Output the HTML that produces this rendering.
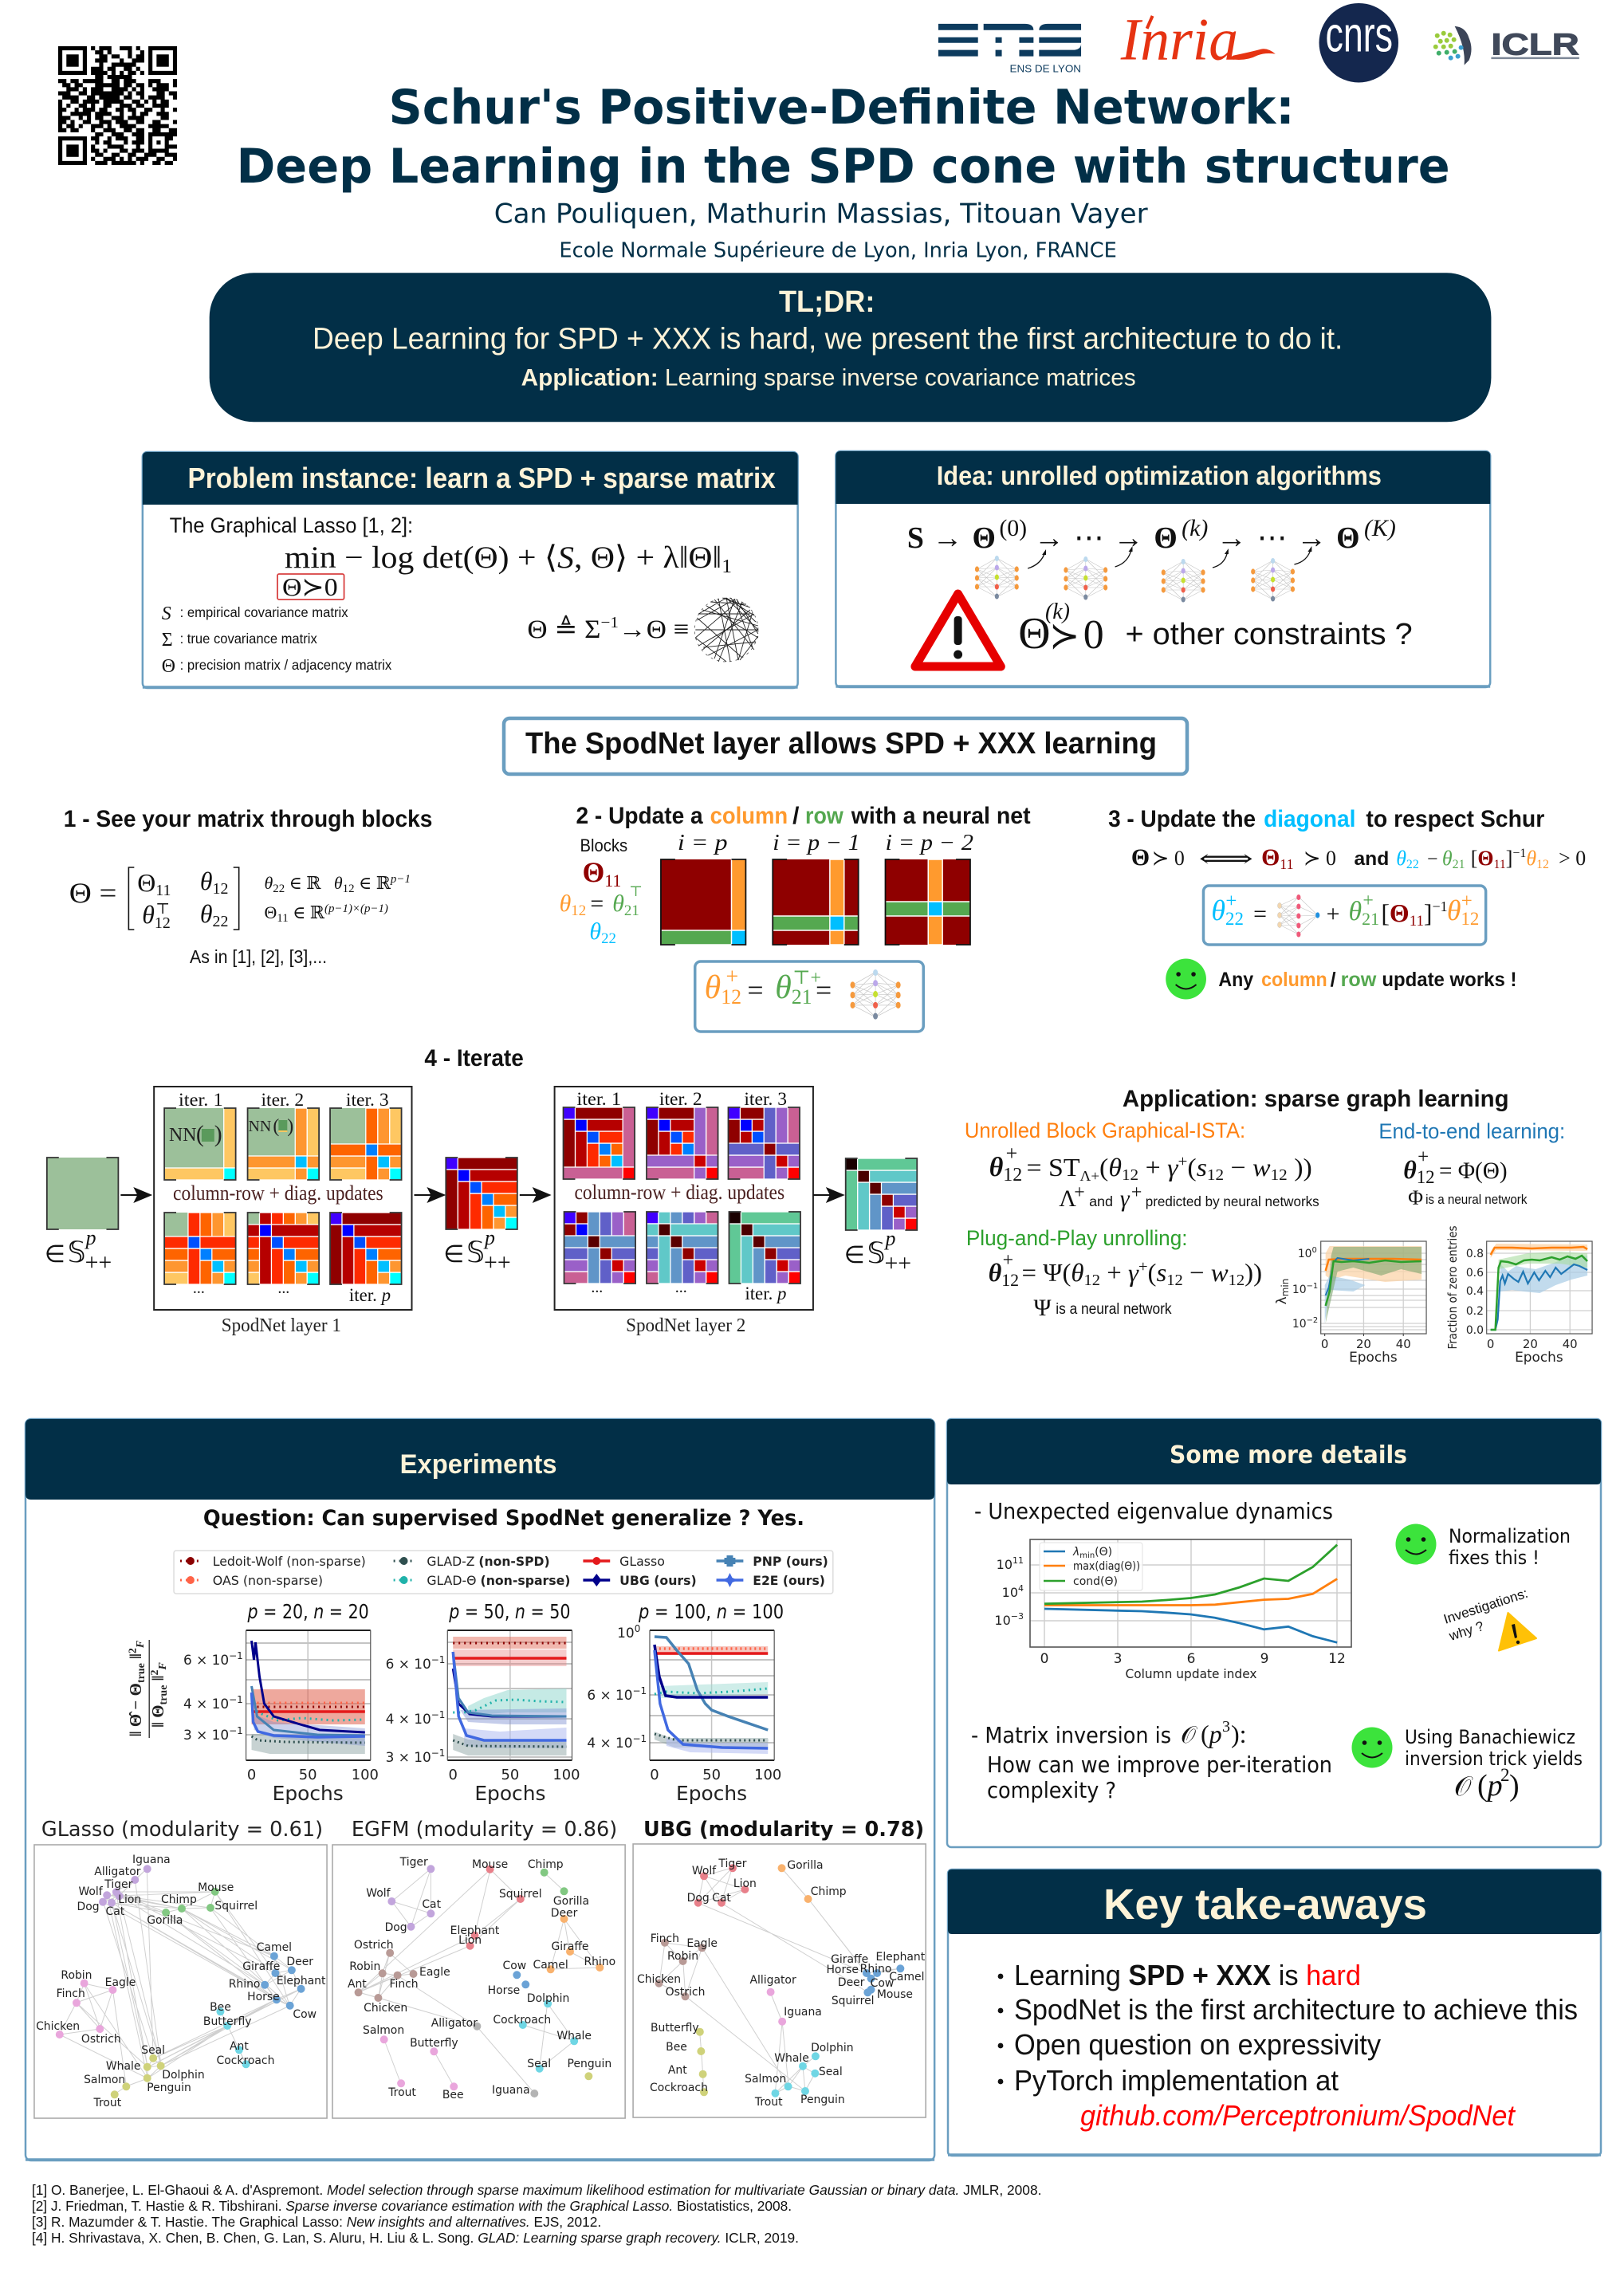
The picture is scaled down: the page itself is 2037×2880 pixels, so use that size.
<!DOCTYPE html>
<html><head><meta charset="utf-8"><title>SpodNet poster</title>
<style>
html,body{margin:0;padding:0;background:#fff}
svg{display:block}
text{white-space:pre}
.a{font-family:"Liberation Sans",sans-serif}
.ab{font-family:"Liberation Sans",sans-serif;font-weight:bold}
.d{font-family:"DejaVu Sans",sans-serif}
.db{font-family:"DejaVu Sans",sans-serif;font-weight:bold}
.m{font-family:"Liberation Serif","DejaVu Serif","DejaVu Sans",serif}
.mi{font-family:"Liberation Serif","DejaVu Serif","DejaVu Sans",serif;font-style:italic}
.mb{font-family:"Liberation Serif","DejaVu Serif","DejaVu Sans",serif;font-weight:bold}
.lb text{font-family:"DejaVu Sans",sans-serif;font-size:14px;text-anchor:middle;fill:#222}
</style></head><body>
<svg xmlns="http://www.w3.org/2000/svg" width="2037" height="2880" viewBox="0 0 2037 2880">
<defs>
<g id="nn">
<path d="M5 17L30 3M5 17L30 15M5 17L30 27M5 17L30 39M5 28L30 3M5 28L30 15M5 28L30 27M5 28L30 39M5 28L30 52M5 39L30 15M5 39L30 27M5 39L30 39M5 39L30 52M55 17L30 3M55 17L30 15M55 17L30 27M55 17L30 39M55 28L30 3M55 28L30 15M55 28L30 27M55 28L30 39M55 28L30 52M55 39L30 15M55 39L30 27M55 39L30 39M55 39L30 52M30 3V52" stroke="#c4c4c4" stroke-width=".6" fill="none"/>
<g fill="#f59a3e"><ellipse cx="5" cy="17" rx="2.6" ry="3.6"/><ellipse cx="5" cy="28" rx="2.6" ry="3.6"/><ellipse cx="5" cy="39" rx="2.6" ry="3.6"/><ellipse cx="55" cy="17" rx="2.6" ry="3.6"/><ellipse cx="55" cy="28" rx="2.6" ry="3.6"/><ellipse cx="55" cy="39" rx="2.6" ry="3.6"/></g>
<ellipse cx="30" cy="3.5" rx="2.6" ry="3.5" fill="#bcd9ee"/><ellipse cx="30" cy="15" rx="2.6" ry="3.5" fill="#bba8ea"/><ellipse cx="30" cy="27" rx="2.6" ry="3.5" fill="#c6e030"/><ellipse cx="30" cy="39" rx="2.6" ry="3.5" fill="#f0604a"/><ellipse cx="30" cy="51" rx="2.6" ry="3.5" fill="#7a8aa0"/>
</g>
<g id="nn2">
<path d="M4 14L28 3M4 14L28 15M4 14L28 27M4 14L28 39M4 26L28 3M4 26L28 15M4 26L28 27M4 26L28 39M4 26L28 50M4 38L28 15M4 38L28 27M4 38L28 39M4 38L28 50M52 26L28 3M52 26L28 15M52 26L28 27M52 26L28 39M52 26L28 50" stroke="#c4c4c4" stroke-width=".6" fill="none"/>
<g fill="#f3d6ae" stroke="#bbb" stroke-width=".4"><ellipse cx="4" cy="14" rx="2.5" ry="3.6"/><ellipse cx="4" cy="26" rx="2.5" ry="3.6"/><ellipse cx="4" cy="38" rx="2.5" ry="3.6"/></g>
<g fill="#ef5a7a"><ellipse cx="28" cy="3.5" rx="2.6" ry="3.5"/><ellipse cx="28" cy="15" rx="2.6" ry="3.5"/><ellipse cx="28" cy="27" rx="2.6" ry="3.5"/><ellipse cx="28" cy="39" rx="2.6" ry="3.5"/><ellipse cx="28" cy="50" rx="2.6" ry="3.5"/></g>
<ellipse cx="52" cy="26" rx="2.6" ry="3.6" fill="#1e90e0"/>
</g>
<g id="smile"><circle cx="0" cy="0" r="25.5" fill="#3ce33c"/><circle cx="-9.5" cy="-6" r="2.8" fill="#111"/><circle cx="9.5" cy="-6" r="2.8" fill="#111"/><path d="M-13 7Q0 18 13 7" fill="none" stroke="#111" stroke-width="2"/></g>
<g id="br"><path d="M15 0H0V90H15M75 0H90V90H75" fill="none" stroke="#333" stroke-width="1.8"/></g>
<g id="a5"><rect x="75" y="0" width="15" height="90" fill="#fec762"/><rect x="0" y="75" width="90" height="15" fill="#fec762"/><rect x="75" y="75" width="15" height="15" fill="#00ffff"/></g>
<g id="a4"><rect x="60" y="0" width="15" height="90" fill="#fe9630"/><rect x="0" y="60" width="90" height="15" fill="#fe9630"/><rect x="60" y="60" width="15" height="15" fill="#00bfff"/></g>
<g id="a3"><rect x="45" y="0" width="15" height="90" fill="#fe6400"/><rect x="0" y="45" width="90" height="15" fill="#fe6400"/><rect x="45" y="45" width="15" height="15" fill="#0080ff"/></g>
<g id="a2"><rect x="30" y="0" width="15" height="90" fill="#fe2a00"/><rect x="0" y="30" width="90" height="15" fill="#fe2a00"/><rect x="30" y="30" width="15" height="15" fill="#0050ff"/></g>
<g id="a1"><rect x="15" y="0" width="15" height="90" fill="#b60000"/><rect x="0" y="15" width="90" height="15" fill="#b60000"/><rect x="15" y="15" width="15" height="15" fill="#0000ff"/></g>
<g id="a0"><rect x="0" y="0" width="15" height="90" fill="#8f0000"/><rect x="0" y="0" width="90" height="15" fill="#8f0000"/><rect x="0" y="0" width="15" height="15" fill="#4000ff"/></g>
<g id="b5"><rect x="75" y="0" width="15" height="90" fill="#c96094"/><rect x="0" y="75" width="90" height="15" fill="#c96094"/><rect x="75" y="75" width="15" height="15" fill="#ff0000"/></g>
<g id="b4"><rect x="60" y="0" width="15" height="90" fill="#9a60c8"/><rect x="0" y="60" width="90" height="15" fill="#9a60c8"/><rect x="60" y="60" width="15" height="15" fill="#cc0000"/></g>
<g id="b3"><rect x="45" y="0" width="15" height="90" fill="#6060c8"/><rect x="0" y="45" width="90" height="15" fill="#6060c8"/><rect x="45" y="45" width="15" height="15" fill="#8f0000"/></g>
<g id="b2"><rect x="30" y="0" width="15" height="90" fill="#6095c8"/><rect x="0" y="30" width="90" height="15" fill="#6095c8"/><rect x="30" y="30" width="15" height="15" fill="#5a0000"/></g>
<g id="b1"><rect x="15" y="0" width="15" height="90" fill="#60c8c8"/><rect x="0" y="15" width="90" height="15" fill="#60c8c8"/><rect x="15" y="15" width="15" height="15" fill="#4a0000"/></g>
<g id="b0"><rect x="0" y="0" width="15" height="90" fill="#60c896"/><rect x="0" y="0" width="90" height="15" fill="#60c896"/><rect x="0" y="0" width="15" height="15" fill="#1a0000"/></g>
<g id="L1" stroke="#fff" stroke-width="1.3"><rect width="90" height="90" fill="#9cc09a" stroke="none"/><use href="#a5"/></g>
<g id="L2"><use href="#L1"/><use href="#a4" stroke="#fff" stroke-width="1.3"/></g>
<g id="L3"><use href="#L2"/><use href="#a3" stroke="#fff" stroke-width="1.3"/></g>
<g id="L4"><use href="#L3"/><use href="#a2" stroke="#fff" stroke-width="1.3"/></g>
<g id="L5"><use href="#L4"/><use href="#a1" stroke="#fff" stroke-width="1.3"/></g>
<g id="L6"><use href="#L5"/><use href="#a0" stroke="#fff" stroke-width="1.3"/></g>
<g id="R1"><use href="#L6"/><use href="#b5" stroke="#fff" stroke-width="1.3"/></g>
<g id="R2"><use href="#R1"/><use href="#b4" stroke="#fff" stroke-width="1.3"/></g>
<g id="R3"><use href="#R2"/><use href="#b3" stroke="#fff" stroke-width="1.3"/></g>
<g id="R4"><use href="#R3"/><use href="#b2" stroke="#fff" stroke-width="1.3"/></g>
<g id="R5"><use href="#R4"/><use href="#b1" stroke="#fff" stroke-width="1.3"/></g>
<g id="R6"><use href="#R5"/><use href="#b0" stroke="#fff" stroke-width="1.3"/></g>
<g id="arr"><path d="M0 0H28" stroke="#111" stroke-width="2"/><path d="M40 0L16 -10L21 0L16 10Z" fill="#111"/></g>
</defs>

<!-- QR -->
<g transform="translate(73 58) scale(5.14)">
<path fill-rule="evenodd" d="M0 0H7V7H0ZM1 1V6H6V1ZM22 0H29V7H22ZM23 1V6H28V1ZM0 22H7V29H0ZM1 23V28H6V23Z"/>
<rect x="2" y="2" width="3" height="3"/><rect x="24" y="2" width="3" height="3"/><rect x="2" y="24" width="3" height="3"/>
<path fill="none" stroke="#000" stroke-width="1" d="M8 .5h1M10 .5h3M15 .5h3M19 .5h1M9 1.5h2M12 1.5h1M17 1.5h1M20 1.5h1M10 2.5h2M13 2.5h2M17 2.5h1M19 2.5h2M9 3.5h3M15 3.5h1M18 3.5h3M10 4.5h1M13 4.5h6M8 5.5h3M12 5.5h2M16 5.5h2M19 5.5h1M8 6.5h4M13 6.5h1M15 6.5h1M17 6.5h2M20 6.5h1M9 7.5h2M12 7.5h6M0 8.5h2M3 8.5h2M6 8.5h2M8 8.5h3M13 8.5h2M16 8.5h3M22 8.5h3M28 8.5h1M1 9.5h2M4 9.5h2M9 9.5h6M16 9.5h2M19 9.5h2M22 9.5h1M24 9.5h3M28 9.5h1M2 10.5h3M6 10.5h1M8 10.5h3M13 10.5h4M18 10.5h1M20 10.5h1M23 10.5h4M0 11.5h3M5 11.5h2M8 11.5h8M17 11.5h1M19 11.5h2M24 11.5h2M27 11.5h2M1 12.5h4M7 12.5h2M10 12.5h5M16 12.5h2M20 12.5h1M22 12.5h4M28 12.5h1M0 13.5h1M3 13.5h2M6 13.5h4M11 13.5h5M18 13.5h2M21 13.5h1M23 13.5h1M25 13.5h2M0 14.5h1M2 14.5h1M5 14.5h2M8 14.5h1M11 14.5h2M15 14.5h3M19 14.5h2M23 14.5h4M0 15.5h2M4 15.5h1M6 15.5h3M10 15.5h2M14 15.5h2M17 15.5h2M21 15.5h2M25 15.5h1M28 15.5h1M0 16.5h1M3 16.5h5M9 16.5h4M15 16.5h1M18 16.5h1M20 16.5h2M24 16.5h3M0 17.5h3M5 17.5h1M7 17.5h1M9 17.5h2M13 17.5h3M17 17.5h4M25 17.5h2M0 18.5h2M3 18.5h1M6 18.5h2M10 18.5h3M14 18.5h3M19 18.5h2M23 18.5h2M28 18.5h1M0 19.5h1M2 19.5h2M5 19.5h1M8 19.5h3M12 19.5h1M15 19.5h4M22 19.5h5M0 20.5h2M3 20.5h2M8 20.5h1M11 20.5h3M16 20.5h2M19 20.5h2M23 20.5h2M27 20.5h2M9 21.5h2M13 21.5h3M18 21.5h3M22 21.5h7M8 22.5h2M12 22.5h1M14 22.5h3M19 22.5h2M22 22.5h1M26 22.5h2M9 23.5h1M11 23.5h2M16 23.5h1M18 23.5h3M22 23.5h1M24 23.5h1M26 23.5h1M8 24.5h1M12 24.5h4M19 24.5h1M22 24.5h1M26 24.5h3M8 25.5h2M11 25.5h1M15 25.5h2M18 25.5h3M22 25.5h5M9 26.5h2M13 26.5h2M17 26.5h2M21 26.5h3M26 26.5h3M8 27.5h1M11 27.5h3M15 27.5h1M17 27.5h1M19 27.5h3M24 27.5h2M28 27.5h1M9 28.5h3M13 28.5h6M20 28.5h1M23 28.5h2M26 28.5h2"/>
</g>

<!-- TOP GROUP -->
<g transform="scale(.9949)">
<g fill="#0d3b5e">
<path d="M1183 30h50v8h-50zM1240 30h52q11 0 11 8h-63zM1310 38q0-8 11-8h42v8zM1183 47h50v7h-50zM1255 47h8v7h-8zM1285 47h18v7h-18zM1310 47h53v7h-53zM1183 63h50v8h-50zM1255 63h8v8h-8zM1285 63h18v8h-18zM1310 63h42q11 0 11-8v16h-53z"/>
</g>
<text class="a" x="1273" y="91" font-size="13" fill="#0d3b5e" textLength="90" lengthAdjust="spacingAndGlyphs">ENS DE LYON</text>
<text class="mi" x="1413" y="75" font-size="76" fill="#e63312" textLength="148" lengthAdjust="spacingAndGlyphs">Inria</text>
<path d="M1555 70Q1575 66 1590 62Q1598 60 1608 68Q1595 66 1585 70Q1570 78 1548 74Z" fill="#e63312"/>
<path d="M1453 20L1446 36" stroke="#e63312" stroke-width="4"/>
<ellipse cx="1713" cy="54" rx="50" ry="50" fill="#14274e"/>
<text class="a" x="1671" y="65" font-size="62" fill="#fff" textLength="85" lengthAdjust="spacingAndGlyphs">cnrs</text>
<g>
<path d="M1834 33Q1848 34 1852 48Q1858 62 1852 76L1846 82Q1848 60 1834 33Z" fill="#3c4558"/>
<g fill="#9acb3c"><circle cx="1812" cy="45" r="3"/><circle cx="1820" cy="42" r="3"/><circle cx="1828" cy="44" r="3"/><circle cx="1816" cy="52" r="3"/><circle cx="1824" cy="51" r="3"/><circle cx="1833" cy="50" r="3"/><circle cx="1810" cy="59" r="3"/><circle cx="1820" cy="59" r="3"/><circle cx="1829" cy="58" r="3"/></g>
<g fill="#3fae6a"><circle cx="1814" cy="67" r="3"/><circle cx="1824" cy="66" r="3"/><circle cx="1834" cy="65" r="3"/></g>
<g fill="#3a9fd0"><circle cx="1829" cy="73" r="3"/><circle cx="1838" cy="71" r="3"/><circle cx="1842" cy="60" r="3"/></g>
<text class="ab" x="1880" y="69" font-size="38" fill="#40495a" textLength="111" lengthAdjust="spacingAndGlyphs" stroke="#40495a" stroke-width="1">ICLR</text>
<rect x="1880" y="72" width="111" height="2.5" fill="#7d8797"/>
</g>
<text class="db" x="490" y="156" font-size="60" fill="#022f47" textLength="1142" lengthAdjust="spacingAndGlyphs">Schur's Positive-Definite Network:</text>
<text class="db" x="298" y="230" font-size="60" fill="#022f47" textLength="1530" lengthAdjust="spacingAndGlyphs">Deep Learning in the SPD cone with structure</text>
<text class="d" x="623" y="281" font-size="34" fill="#022f47" textLength="824" lengthAdjust="spacingAndGlyphs">Can Pouliquen, Mathurin Massias, Titouan Vayer</text>
<text class="d" x="705" y="324" font-size="26" fill="#022f47" textLength="703" lengthAdjust="spacingAndGlyphs">Ecole Normale Supérieure de Lyon, Inria Lyon, FRANCE</text>
<rect x="264" y="344" width="1616" height="188" rx="56" ry="56" fill="#022f47"/>
<text class="ab" x="982" y="393" font-size="38" fill="#fdf3d8" textLength="121" lengthAdjust="spacingAndGlyphs">TL;DR:</text>
<text class="a" x="394" y="440" font-size="38" fill="#fdf3d8" textLength="1299" lengthAdjust="spacingAndGlyphs">Deep Learning for SPD + XXX is hard, we present the first architecture to do it.</text>
<text class="a" x="657" y="486" font-size="30" fill="#fdf3d8" textLength="775" lengthAdjust="spacingAndGlyphs"><tspan font-weight="bold">Application:</tspan> Learning sparse inverse covariance matrices</text>
</g>

<!-- BOXES -->
<g transform="translate(150 0) scale(.9949 1) translate(-150 0)">
<rect x="179" y="567" width="826" height="296" rx="6" fill="#fff" stroke="#6a9ec0" stroke-width="2.5"/>
<path d="M179 862H1005" stroke="#6a9ec0" stroke-width="3.5"/>
<path d="M179 573q0-6 6-6h814q6 0 6 6v60H179Z" fill="#022f47"/>
<text class="ab" x="236" y="612" font-size="36" fill="#fdf3d8" textLength="741" lengthAdjust="spacingAndGlyphs">Problem instance: learn a SPD + sparse matrix</text>
<text class="a" x="213" y="668" font-size="27" fill="#111" textLength="307" lengthAdjust="spacingAndGlyphs">The Graphical Lasso [1, 2]:</text>
<text class="m" x="358" y="712" font-size="39" fill="#111" textLength="564" lengthAdjust="spacingAndGlyphs">min − log det(Θ) + ⟨<tspan font-style="italic">S</tspan>, Θ⟩ + λ‖Θ‖<tspan font-size="24" dy="6">1</tspan></text>
<rect x="349" y="720" width="84" height="32" rx="2" fill="#fff" stroke="#d84040" stroke-width="1.8"/>
<text class="m" x="355" y="747" font-size="32" fill="#111" textLength="70" lengthAdjust="spacingAndGlyphs">Θ≻0</text>
<text class="mi" x="203" y="777" font-size="24" fill="#111">S</text><text class="a" x="226" y="774" font-size="18" fill="#111" textLength="212" lengthAdjust="spacingAndGlyphs">: empirical covariance matrix</text>
<text class="m" x="203" y="810" font-size="24" fill="#111">Σ</text><text class="a" x="226" y="807" font-size="18" fill="#111" textLength="173" lengthAdjust="spacingAndGlyphs">: true covariance matrix</text>
<text class="m" x="203" y="843" font-size="24" fill="#111">Θ</text><text class="a" x="226" y="840" font-size="18" fill="#111" textLength="267" lengthAdjust="spacingAndGlyphs">: precision matrix / adjacency matrix</text>
<text class="m" x="664" y="800" font-size="33" fill="#111" textLength="204" lengthAdjust="spacingAndGlyphs">Θ ≜ Σ<tspan font-size="20" dy="-13">−1</tspan><tspan dy="13">→Θ ≡</tspan></text>
<g fill="none" stroke="#222" stroke-width=".9">
<circle cx="915" cy="790" r="40" stroke="#666" stroke-dasharray="3 5"/>
<path d="M915 750L955 790M915 750L880 770M915 750L930 828M900 752L950 815M930 754L876 800M876 790H955M880 770L945 770M885 815L945 765M900 826L925 752M935 755L905 830M878 775L935 825M880 810L950 770M890 760L955 800M925 751L948 812M905 751L920 830M948 768L930 828M876 800L915 830M955 785L885 765M915 750L950 772M920 750L952 780M910 750L945 762M928 752L955 795M895 755L940 758M886 812L952 805M892 822L955 790M878 778L925 752M932 828L955 798"/>
</g>
<rect x="1053" y="566" width="825" height="296" rx="6" fill="#fff" stroke="#6a9ec0" stroke-width="2.5"/>
<path d="M1053 861H1878" stroke="#6a9ec0" stroke-width="3.5"/>
<path d="M1053 572q0-6 6-6h813q6 0 6 6v60h-825Z" fill="#022f47"/>
<text class="ab" x="1180" y="608" font-size="33" fill="#fdf3d8" textLength="561" lengthAdjust="spacingAndGlyphs">Idea: unrolled optimization algorithms</text>
<g fill="#111" font-size="38">
<text class="mb" x="1143" y="687" font-size="38">S</text><text class="m" x="1175" y="687" font-size="38">→</text>
<text class="mb" x="1225" y="687">Θ</text><text class="m" x="1259" y="672" font-size="30">(0)</text>
<text class="m" x="1303" y="687">→</text><text class="m" x="1353" y="687">⋯</text><text class="m" x="1403" y="687">→</text>
<text class="mb" x="1454" y="687">Θ</text><text class="mi" x="1489" y="672" font-size="30">(k)</text>
<text class="m" x="1533" y="687">→</text><text class="m" x="1584" y="687">⋯</text><text class="m" x="1634" y="687">→</text>
<text class="mb" x="1684" y="687">Θ</text><text class="mi" x="1719" y="672" font-size="30">(K)</text>
</g>
<use href="#nn" x="1226" y="697"/><use href="#nn" x="1338" y="698"/><use href="#nn" x="1461" y="701"/><use href="#nn" x="1574" y="700"/>
<g fill="none" stroke="#111" stroke-width="1.3"><path d="M1295 713Q1312 708 1317 692M1405 711Q1422 706 1426 688M1528 712Q1544 708 1547 691M1631 708Q1648 704 1652 688"/></g>
<g fill="#111"><path d="M1318 689l-5 7 5 0zM1427 685l-5 7 5 0zM1548 688l-5 7 5 0zM1653 685l-5 7 5 0z"/></g>
<path d="M1207 745L1261 836H1153Z" fill="#fff" stroke="#e60000" stroke-width="11" stroke-linejoin="round"/>
<rect x="1202" y="773" width="10" height="36" rx="4" fill="#111"/><circle cx="1207" cy="821" r="5.5" fill="#111"/>
<text class="m" x="1283" y="813" font-size="56" fill="#111">Θ</text><text class="mi" x="1317" y="776" font-size="28" fill="#111">(k)</text>
<text class="m" x="1322" y="813" font-size="46" fill="#111">≻</text><text class="m" x="1365" y="813" font-size="52" fill="#111">0</text>
<text class="a" x="1418" y="808" font-size="38" fill="#111" textLength="362" lengthAdjust="spacingAndGlyphs">+ other constraints ?</text>
</g>

<!-- SpodNet -->
<rect x="632" y="901" width="857" height="70" rx="7" fill="#fff" stroke="#6a9ec0" stroke-width="4.5"/>
<text class="ab" x="659" y="945" font-size="38" fill="#111" textLength="792" lengthAdjust="spacingAndGlyphs">The SpodNet layer allows SPD + XXX learning</text>

<!-- Sections 1-3 -->
<g transform="translate(40 0) scale(.9949 1) translate(-40 0)">
<text class="ab" x="80" y="1037" font-size="30" fill="#111" textLength="465" lengthAdjust="spacingAndGlyphs">1 - See your matrix through blocks</text>
<text class="m" x="87" y="1132" font-size="36" fill="#111" textLength="60" lengthAdjust="spacingAndGlyphs">Θ =</text>
<path d="M169 1088H162V1166H169M294 1088H301V1166H294" fill="none" stroke="#111" stroke-width="1.6"/>
<text class="m" x="173" y="1118" font-size="32" fill="#111">Θ<tspan font-size="20" dy="5">11</tspan></text>
<text class="mi" x="252" y="1116" font-size="32" fill="#111">θ<tspan font-size="20" dy="5" font-style="normal">12</tspan></text>
<text class="mi" x="179" y="1158" font-size="32" fill="#111">θ<tspan font-size="20" dy="6" font-style="normal">12</tspan></text><text class="m" x="196" y="1146" font-size="19" fill="#111">⊤</text>
<text class="mi" x="252" y="1157" font-size="32" fill="#111">θ<tspan font-size="20" dy="5" font-style="normal">22</tspan></text>
<text class="mi" x="333" y="1115" font-size="22" fill="#111">θ<tspan font-size="15" dy="4" font-style="normal">22</tspan><tspan font-style="normal" dy="-4"> ∈ ℝ   </tspan>θ<tspan font-size="15" dy="4" font-style="normal">12</tspan><tspan font-style="normal" dy="-4"> ∈ ℝ</tspan><tspan font-size="15" dy="-8">p−1</tspan></text>
<text class="m" x="333" y="1152" font-size="22" fill="#111">Θ<tspan font-size="15" dy="4">11</tspan><tspan dy="-4"> ∈ ℝ</tspan><tspan font-size="15" dy="-8" font-style="italic">(p−1)×(p−1)</tspan></text>
<text class="a" x="239" y="1208" font-size="23" fill="#111" textLength="173" lengthAdjust="spacingAndGlyphs">As in [1], [2], [3],...</text>

<text class="ab" x="726" y="1033" font-size="30" fill="#111" textLength="160" lengthAdjust="spacingAndGlyphs">2 - Update a</text>
<text class="ab" x="895" y="1033" font-size="30" fill="#ff9a2e" textLength="98" lengthAdjust="spacingAndGlyphs">column</text>
<text class="ab" x="999" y="1033" font-size="30" fill="#111">/</text>
<text class="ab" x="1015" y="1033" font-size="30" fill="#55a850" textLength="48" lengthAdjust="spacingAndGlyphs">row</text>
<text class="ab" x="1073" y="1033" font-size="30" fill="#111" textLength="226" lengthAdjust="spacingAndGlyphs">with a neural net</text>
<text class="a" x="731" y="1068" font-size="22" fill="#111" textLength="60" lengthAdjust="spacingAndGlyphs">Blocks</text>
<text class="mi" x="854" y="1066" font-size="28" fill="#111" textLength="63" lengthAdjust="spacingAndGlyphs">i = p</text>
<text class="mi" x="974" y="1066" font-size="28" fill="#111" textLength="110" lengthAdjust="spacingAndGlyphs">i = p − 1</text>
<text class="mi" x="1116" y="1066" font-size="28" fill="#111" textLength="111" lengthAdjust="spacingAndGlyphs">i = p − 2</text>
<rect x="833" y="1078" width="107" height="107" fill="#8f0000"/><rect x="974" y="1078" width="108" height="107" fill="#8f0000"/><rect x="1116" y="1078" width="107" height="107" fill="#8f0000"/>
<g stroke="#fff" stroke-width="1.5">
<rect x="922" y="1078" width="18" height="107" fill="#ff9a2e"/>
<rect x="833" y="1167" width="107" height="18" fill="#55a850"/><rect x="922" y="1167" width="18" height="18" fill="#00bfff"/>
<rect x="1046" y="1078" width="18" height="107" fill="#ff9a2e"/>
<rect x="974" y="1149" width="108" height="18" fill="#55a850"/><rect x="1046" y="1149" width="18" height="18" fill="#00bfff"/>
<rect x="1170" y="1078" width="18" height="107" fill="#ff9a2e"/>
<rect x="1116" y="1131" width="107" height="18" fill="#55a850"/><rect x="1170" y="1131" width="18" height="18" fill="#00bfff"/>
</g>
<path d="M851 1078H833V1185H851M922 1078H940V1185H922M992 1078H974V1185H992M1064 1078H1082V1185H1064M1134 1078H1116V1185H1134M1205 1078H1223V1185H1205" fill="none" stroke="#111" stroke-width="1.8"/>
<text class="mb" x="734" y="1106" font-size="36" fill="#8f0000">Θ<tspan font-size="22" dy="6" font-weight="normal">11</tspan></text>
<text class="mi" x="705" y="1143" font-size="30" fill="#ff9a2e">θ<tspan font-size="19" dy="5" font-style="normal">12</tspan></text>
<text class="m" x="744" y="1143" font-size="30" fill="#111">=</text>
<text class="mi" x="772" y="1143" font-size="30" fill="#55a850">θ<tspan font-size="19" dy="5" font-style="normal">21</tspan></text><text class="m" x="793" y="1124" font-size="18" fill="#55a850">⊤</text>
<text class="mi" x="743" y="1178" font-size="30" fill="#00bfff">θ<tspan font-size="19" dy="5" font-style="normal">22</tspan></text>
<rect x="876" y="1206" width="288" height="88" rx="7" fill="#fff" stroke="#6a9ec0" stroke-width="3.5"/>
<text class="mi" x="888" y="1252" font-size="42" fill="#ff9a2e">θ<tspan font-size="26" dy="7" font-style="normal">12</tspan></text><text class="m" x="915" y="1234" font-size="28" fill="#ff9a2e">+</text>
<text class="m" x="942" y="1254" font-size="36" fill="#111">=</text>
<text class="mi" x="977" y="1252" font-size="42" fill="#55a850">θ<tspan font-size="26" dy="7" font-style="normal">21</tspan></text><text class="m" x="999" y="1234" font-size="24" fill="#55a850">⊤+</text>
<text class="m" x="1028" y="1254" font-size="36" fill="#111">=</text>
<use href="#nn" transform="translate(1069 1216) scale(1.15)"/>

<text class="ab" x="1397" y="1037" font-size="30" fill="#111" textLength="186" lengthAdjust="spacingAndGlyphs">3 - Update the</text>
<text class="ab" x="1593" y="1037" font-size="30" fill="#00bfff" textLength="116" lengthAdjust="spacingAndGlyphs">diagonal</text>
<text class="ab" x="1722" y="1037" font-size="30" fill="#111" textLength="225" lengthAdjust="spacingAndGlyphs">to respect Schur</text>
<text class="mb" x="1426" y="1085" font-size="30" fill="#111">Θ</text><text class="m" x="1452" y="1085" font-size="26" fill="#111">≻ 0</text>
<text class="m" x="1511" y="1087" font-size="30" fill="#111" textLength="69" lengthAdjust="spacingAndGlyphs">⟺</text>
<text class="mb" x="1590" y="1085" font-size="30" fill="#8f0000">Θ<tspan font-size="18" dy="5" font-weight="normal">11</tspan></text>
<text class="m" x="1643" y="1085" font-size="26" fill="#111">≻ 0</text>
<text class="ab" x="1707" y="1085" font-size="24" fill="#111" textLength="44" lengthAdjust="spacingAndGlyphs">and</text>
<text class="mi" x="1760" y="1085" font-size="26" fill="#00bfff">θ<tspan font-size="16" dy="4" font-style="normal">22</tspan></text>
<text class="m" x="1799" y="1085" font-size="24" fill="#111">−</text>
<text class="mi" x="1818" y="1085" font-size="26" fill="#55a850">θ<tspan font-size="16" dy="4" font-style="normal">21</tspan></text>
<text class="m" x="1854" y="1085" font-size="26" fill="#111">[<tspan fill="#8f0000" font-weight="bold">Θ</tspan><tspan font-size="16" dy="4" fill="#8f0000">11</tspan><tspan dy="-4">]</tspan><tspan font-size="16" dy="-10">−1</tspan></text>
<text class="mi" x="1924" y="1085" font-size="26" fill="#ff9a2e">θ<tspan font-size="16" dy="4" font-style="normal">12</tspan></text>
<text class="m" x="1965" y="1085" font-size="26" fill="#111">&gt; 0</text>
<rect x="1517" y="1111" width="356" height="74" rx="7" fill="#fff" stroke="#6a9ec0" stroke-width="3.5"/>
<text class="mi" x="1527" y="1154" font-size="36" fill="#00bfff">θ<tspan font-size="23" dy="6" font-style="normal">22</tspan></text><text class="m" x="1545" y="1138" font-size="25" fill="#00bfff">+</text>
<text class="m" x="1580" y="1156" font-size="30" fill="#111">=</text>
<use href="#nn2" x="1609" y="1122"/>
<text class="m" x="1672" y="1156" font-size="30" fill="#111">+</text>
<text class="mi" x="1700" y="1154" font-size="34" fill="#55a850">θ<tspan font-size="22" dy="6" font-style="normal">21</tspan></text><text class="m" x="1718" y="1137" font-size="24" fill="#55a850">+</text>
<text class="m" x="1741" y="1156" font-size="32" fill="#111">[<tspan fill="#8f0000" font-weight="bold">Θ</tspan><tspan font-size="19" dy="5" fill="#8f0000">11</tspan><tspan dy="-5">]</tspan><tspan font-size="18" dy="-13">−1</tspan></text>
<text class="mi" x="1824" y="1154" font-size="36" fill="#ff9a2e">θ<tspan font-size="23" dy="6" font-style="normal">12</tspan></text><text class="m" x="1842" y="1138" font-size="25" fill="#ff9a2e">+</text>
<use href="#smile" x="1495" y="1228"/>
<text class="ab" x="1536" y="1237" font-size="25" fill="#111" textLength="44" lengthAdjust="spacingAndGlyphs">Any</text>
<text class="ab" x="1590" y="1237" font-size="25" fill="#ff9a2e" textLength="83" lengthAdjust="spacingAndGlyphs">column</text>
<text class="ab" x="1677" y="1237" font-size="25" fill="#111">/</text>
<text class="ab" x="1690" y="1237" font-size="25" fill="#55a850" textLength="45" lengthAdjust="spacingAndGlyphs">row</text>
<text class="ab" x="1742" y="1237" font-size="25" fill="#111" textLength="170" lengthAdjust="spacingAndGlyphs">update works !</text>
</g>

<!-- Section 4 -->
<g transform="translate(30 0) scale(.9949 1) translate(-30 0)">
<text class="ab" x="535" y="1337" font-size="30" fill="#111" textLength="125" lengthAdjust="spacingAndGlyphs">4 - Iterate</text>
<rect x="59" y="1452" width="90" height="90" fill="#9cc09a"/><use href="#br" x="59" y="1452"/>
<use href="#arr" x="152" y="1499"/>
<rect x="194" y="1363" width="325" height="280" fill="#fff" stroke="#222" stroke-width="2"/>
<text class="m" x="225" y="1387" font-size="23" fill="#111" textLength="56" lengthAdjust="spacingAndGlyphs">iter. 1</text>
<text class="m" x="329" y="1387" font-size="23" fill="#111" textLength="54" lengthAdjust="spacingAndGlyphs">iter. 2</text>
<text class="m" x="436" y="1387" font-size="23" fill="#111" textLength="54" lengthAdjust="spacingAndGlyphs">iter. 3</text>
<use href="#L1" x="207" y="1390"/><use href="#br" x="207" y="1390"/>
<use href="#L2" x="312" y="1390"/><use href="#br" x="312" y="1390"/>
<use href="#L3" x="416" y="1390"/><use href="#br" x="416" y="1390"/>
<use href="#L4" x="207" y="1521"/><use href="#br" x="207" y="1521"/>
<use href="#L5" x="312" y="1521"/><use href="#br" x="312" y="1521"/>
<use href="#L6" x="416" y="1521"/><use href="#br" x="416" y="1521"/>
<text class="m" x="213" y="1431" font-size="24" fill="#222">NN</text><text class="m" x="247" y="1432" font-size="30" fill="#222">(</text><text class="m" x="270" y="1432" font-size="30" fill="#222">)</text>
<rect x="254" y="1416" width="16" height="16" fill="#5a9a5c"/>
<text class="m" x="313" y="1419" font-size="20" fill="#222">NN</text><text class="m" x="344" y="1420" font-size="24" fill="#222">(</text><text class="m" x="362" y="1420" font-size="24" fill="#222">)</text>
<rect x="351" y="1405" width="11" height="14" fill="#5a9a5c"/><rect x="351" y="1418" width="11" height="2" fill="#fec762"/>
<text class="m" x="218" y="1505" font-size="26" fill="#4a2020" textLength="265" lengthAdjust="spacingAndGlyphs">column-row + diag. updates</text>
<text class="m" x="243" y="1622" font-size="20" fill="#111">...</text><text class="m" x="350" y="1622" font-size="20" fill="#111">...</text>
<text class="m" x="440" y="1632" font-size="23" fill="#111">iter. <tspan font-style="italic">p</tspan></text>
<text class="m" x="279" y="1670" font-size="24" fill="#222" textLength="151" lengthAdjust="spacingAndGlyphs">SpodNet layer 1</text>
<use href="#arr" x="522" y="1499"/>
<use href="#L6" x="562" y="1452"/><use href="#br" x="562" y="1452"/>
<use href="#arr" x="655" y="1499"/>
<rect x="699" y="1363" width="326" height="280" fill="#fff" stroke="#222" stroke-width="2"/>
<text class="m" x="727" y="1386" font-size="23" fill="#111" textLength="56" lengthAdjust="spacingAndGlyphs">iter. 1</text>
<text class="m" x="831" y="1386" font-size="23" fill="#111" textLength="54" lengthAdjust="spacingAndGlyphs">iter. 2</text>
<text class="m" x="938" y="1386" font-size="23" fill="#111" textLength="54" lengthAdjust="spacingAndGlyphs">iter. 3</text>
<use href="#R1" x="710" y="1389"/><use href="#br" x="710" y="1389"/>
<use href="#R2" x="815" y="1389"/><use href="#br" x="815" y="1389"/>
<use href="#R3" x="918" y="1389"/><use href="#br" x="918" y="1389"/>
<use href="#R4" x="711" y="1520"/><use href="#br" x="711" y="1520"/>
<use href="#R5" x="815" y="1520"/><use href="#br" x="815" y="1520"/>
<use href="#R6" x="919" y="1520"/><use href="#br" x="919" y="1520"/>
<text class="m" x="724" y="1504" font-size="26" fill="#4a2020" textLength="265" lengthAdjust="spacingAndGlyphs">column-row + diag. updates</text>
<text class="m" x="745" y="1621" font-size="20" fill="#111">...</text><text class="m" x="851" y="1621" font-size="20" fill="#111">...</text>
<text class="m" x="939" y="1630" font-size="23" fill="#111">iter. <tspan font-style="italic">p</tspan></text>
<text class="m" x="789" y="1670" font-size="24" fill="#222" textLength="151" lengthAdjust="spacingAndGlyphs">SpodNet layer 2</text>
<use href="#arr" x="1025" y="1499"/>
<use href="#R6" x="1066" y="1453"/><use href="#br" x="1066" y="1453"/>
<g fill="#111">
<text class="d" x="56" y="1583" font-size="30">∈</text><text class="d" x="85" y="1583" font-size="36">𝕊</text><text class="mi" x="108" y="1561" font-size="26">p</text><text class="m" x="107" y="1593" font-size="30">++</text>
<text class="d" x="559" y="1583" font-size="30">∈</text><text class="d" x="588" y="1583" font-size="36">𝕊</text><text class="mi" x="611" y="1561" font-size="26">p</text><text class="m" x="610" y="1593" font-size="30">++</text>
<text class="d" x="1064" y="1584" font-size="30">∈</text><text class="d" x="1093" y="1584" font-size="36">𝕊</text><text class="mi" x="1116" y="1562" font-size="26">p</text><text class="m" x="1115" y="1594" font-size="30">++</text>
</g>
</g>

<!-- Application -->
<g transform="translate(1180 0) scale(.9952 1) translate(-1180 0)">
<text class="ab" x="1409" y="1388" font-size="30" fill="#111" textLength="487" lengthAdjust="spacingAndGlyphs">Application: sparse graph learning</text>
<text class="a" x="1210" y="1427" font-size="27" fill="#ff7f0e" textLength="354" lengthAdjust="spacingAndGlyphs">Unrolled Block Graphical-ISTA:</text>
<text class="a" x="1732" y="1428" font-size="27" fill="#1f77b4" textLength="235" lengthAdjust="spacingAndGlyphs">End-to-end learning:</text>
<text class="mb" x="1241" y="1475" font-size="34" fill="#111" font-style="italic">θ<tspan font-size="24" dy="6" font-weight="normal" font-style="normal">12</tspan></text><text class="m" x="1262" y="1455" font-size="26" fill="#111">+</text>
<text class="m" x="1288" y="1475" font-size="32" fill="#111" textLength="360" lengthAdjust="spacingAndGlyphs">= ST<tspan font-size="18" dy="6">Λ+</tspan><tspan dy="-6">(</tspan><tspan font-style="italic">θ</tspan><tspan font-size="20" dy="5">12</tspan><tspan dy="-5"> + </tspan><tspan font-style="italic">γ</tspan><tspan font-size="20" dy="-12">+</tspan><tspan dy="12">(</tspan><tspan font-style="italic">s</tspan><tspan font-size="20" dy="5">12</tspan><tspan dy="-5"> − </tspan><tspan font-style="italic">w</tspan><tspan font-size="20" dy="5">12</tspan><tspan dy="-5"> ))</tspan></text>
<text class="m" x="1329" y="1513" font-size="30" fill="#111">Λ</text><text class="m" x="1348" y="1503" font-size="24" fill="#111">+</text><text class="a" x="1367" y="1513" font-size="18" fill="#111">and</text><text class="mi" x="1406" y="1513" font-size="30" fill="#111">γ</text><text class="m" x="1420" y="1503" font-size="24" fill="#111">+</text>
<text class="a" x="1438" y="1513" font-size="18" fill="#111" textLength="219" lengthAdjust="spacingAndGlyphs">predicted by neural networks</text>
<text class="mb" x="1763" y="1478" font-size="32" fill="#111" font-style="italic">θ<tspan font-size="23" dy="6" font-weight="normal" font-style="normal">12</tspan></text><text class="m" x="1781" y="1459" font-size="25" fill="#111">+</text>
<text class="m" x="1808" y="1478" font-size="30" fill="#111" textLength="86" lengthAdjust="spacingAndGlyphs">= Φ(Θ)</text>
<text class="m" x="1769" y="1511" font-size="26" fill="#111">Φ</text><text class="a" x="1791" y="1510" font-size="17" fill="#111" textLength="128" lengthAdjust="spacingAndGlyphs">is a neural network</text>
<text class="a" x="1212" y="1562" font-size="27" fill="#2ca02c" textLength="279" lengthAdjust="spacingAndGlyphs">Plug-and-Play unrolling:</text>
<text class="mb" x="1240" y="1607" font-size="32" fill="#111" font-style="italic">θ<tspan font-size="22" dy="6" font-weight="normal" font-style="normal">12</tspan></text><text class="m" x="1258" y="1588" font-size="24" fill="#111">+</text>
<text class="m" x="1282" y="1607" font-size="32" fill="#111" textLength="303" lengthAdjust="spacingAndGlyphs">= Ψ(<tspan font-style="italic">θ</tspan><tspan font-size="20" dy="5">12</tspan><tspan dy="-5"> + </tspan><tspan font-style="italic">γ</tspan><tspan font-size="20" dy="-12">+</tspan><tspan dy="12">(</tspan><tspan font-style="italic">s</tspan><tspan font-size="20" dy="5">12</tspan><tspan dy="-5"> − </tspan><tspan font-style="italic">w</tspan><tspan font-size="20" dy="5">12</tspan><tspan dy="-5">))</tspan></text>
<text class="m" x="1297" y="1650" font-size="30" fill="#111">Ψ</text><text class="a" x="1325" y="1648" font-size="19" fill="#111" textLength="146" lengthAdjust="spacingAndGlyphs">is a neural network</text>

<g>
<path d="M1659 1572H1792M1659 1580H1792M1659 1586H1792M1659 1595H1792M1659 1606H1792M1659 1617H1792M1659 1625H1792M1659 1631H1792M1659 1640H1792M1659 1660H1792M1659 1664H1792M1659 1668H1792M1713 1557V1673M1763 1557V1673" stroke="#d0d0d0" stroke-width="1.3"/>
<polygon points="1665,1572 1670,1563 1786,1563 1786,1605 1740,1608 1690,1600 1672,1605 1665,1600" fill="#fbd4aa" opacity=".75"/>
<polygon points="1664,1612 1670,1600 1695,1605 1715,1612 1700,1620 1670,1618 1664,1660" fill="#a8cce6" opacity=".7"/>
<polygon points="1665,1660 1672,1575 1675,1564 1786,1564 1786,1598 1760,1592 1735,1600 1700,1590 1680,1595" fill="#7da56e" opacity=".6"/>
<polyline points="1665,1594 1669,1580 1690,1579 1720,1579 1750,1579 1786,1580" fill="none" stroke="#ff7f0e" stroke-width="2.5"/>
<polyline points="1665,1625 1669,1615 1675,1583 1680,1578 1700,1581 1720,1579" fill="none" stroke="#1f77b4" stroke-width="2"/>
<polyline points="1665,1638 1670,1620 1675,1582 1685,1583 1700,1582 1720,1584 1740,1581 1760,1583 1786,1582" fill="none" stroke="#2ca02c" stroke-width="2.5"/>
<rect x="1659" y="1557" width="133" height="116" fill="none" stroke="#555" stroke-width="1.2"/>
<path d="M1664 1673v3M1713 1673v3M1763 1673v3" stroke="#333"/>
<text class="d" x="1664" y="1691" font-size="15" fill="#222" text-anchor="middle">0</text><text class="d" x="1713" y="1691" font-size="15" fill="#222" text-anchor="middle">20</text><text class="d" x="1763" y="1691" font-size="15" fill="#222" text-anchor="middle">40</text>
<text class="d" x="1630" y="1577" font-size="14" fill="#222">10<tspan font-size="10" dy="-6">0</tspan></text>
<text class="d" x="1623" y="1622" font-size="14" fill="#222">10<tspan font-size="10" dy="-6">−1</tspan></text>
<text class="d" x="1623" y="1665" font-size="14" fill="#222">10<tspan font-size="10" dy="-6">−2</tspan></text>
<text class="d" transform="translate(1615 1620) rotate(-90)" font-size="17" fill="#222" text-anchor="middle">λ<tspan font-size="12" dy="3">min</tspan></text>
<text class="d" x="1725" y="1708" font-size="17" fill="#222" text-anchor="middle">Epochs</text>
</g>
<g>
<path d="M1868 1572H2001M1868 1596H2001M1868 1619H2001M1868 1644H2001M1868 1668H2001M1923 1557V1673M1973 1557V1673" stroke="#cfcfcf" stroke-width="1.3"/>
<polygon points="1885,1585 1895,1595 1905,1588 1915,1590 1930,1592 1950,1585 1970,1578 1995,1575 1995,1600 1975,1605 1955,1612 1935,1622 1915,1620 1900,1618 1885,1620" fill="#a8cce6" opacity=".7"/>
<polygon points="1883,1580 1920,1572 1960,1570 1995,1572 1995,1590 1960,1585 1920,1585 1883,1592" fill="#a8dca0" opacity=".6"/>
<polygon points="1873,1570 1880,1560 1995,1561 1995,1569 1880,1568 1873,1578" fill="#fbd4aa" opacity=".8"/>
<polyline points="1873,1668 1879,1668 1882,1655 1885,1607 1888,1600 1891,1610 1895,1598 1902,1604 1908,1608 1914,1595 1920,1610 1928,1596 1934,1606 1942,1594 1948,1602 1955,1590 1962,1598 1970,1592 1978,1586 1985,1588 1995,1593" fill="none" stroke="#1f77b4" stroke-width="2.2"/>
<polyline points="1873,1668 1879,1668 1883,1590 1886,1582 1895,1583 1905,1586 1915,1581 1925,1580 1935,1581 1950,1577 1960,1580 1970,1576 1980,1579 1988,1575 1995,1582" fill="none" stroke="#2ca02c" stroke-width="2.5"/>
<polyline points="1873,1574 1878,1565 1900,1565 1925,1566 1950,1565 1975,1565 1990,1564 1995,1567" fill="none" stroke="#ff7f0e" stroke-width="2.5"/>
<rect x="1868" y="1557" width="133" height="116" fill="none" stroke="#555" stroke-width="1.2"/>
<text class="d" x="1873" y="1691" font-size="15" fill="#222" text-anchor="middle">0</text><text class="d" x="1923" y="1691" font-size="15" fill="#222" text-anchor="middle">20</text><text class="d" x="1973" y="1691" font-size="15" fill="#222" text-anchor="middle">40</text>
<text class="d" x="1842" y="1577" font-size="14" fill="#222">0.8</text><text class="d" x="1842" y="1601" font-size="14" fill="#222">0.6</text><text class="d" x="1842" y="1624" font-size="14" fill="#222">0.4</text><text class="d" x="1842" y="1649" font-size="14" fill="#222">0.2</text><text class="d" x="1842" y="1673" font-size="14" fill="#222">0.0</text>
<text class="d" transform="translate(1830 1615) rotate(-90)" font-size="15" fill="#222" text-anchor="middle" textLength="155" lengthAdjust="spacingAndGlyphs">Fraction of zero entries</text>
<text class="d" x="1934" y="1708" font-size="17" fill="#222" text-anchor="middle">Epochs</text>
</g>
</g>

<!-- Experiments -->
<g transform="translate(30 0) scale(.9949 1) translate(-30 0)">
<rect x="32" y="1780" width="1146" height="930" rx="7" fill="#fff" stroke="#6a9ec0" stroke-width="2.5"/>
<path d="M32 2709H1178" stroke="#6a9ec0" stroke-width="3.5"/>
<path d="M32 1787q0-7 7-7h1132q7 0 7 7v87q0 7-7 7H39q-7 0-7-7Z" fill="#022f47"/>
<text class="ab" x="504" y="1848" font-size="34" fill="#fdf3d8" textLength="198" lengthAdjust="spacingAndGlyphs">Experiments</text>
<text class="db" x="256" y="1913" font-size="27" fill="#111" textLength="758" lengthAdjust="spacingAndGlyphs">Question: Can supervised SpodNet generalize ? Yes.</text>
<rect x="219" y="1945" width="831" height="54" rx="3" fill="#fff" stroke="#ddd" stroke-width="1.5"/>
<path d="M227 1958H253" stroke="#8b0000" stroke-width="3" stroke-dasharray="2 5"/><circle cx="240" cy="1958" r="5" fill="#8b0000"/>
<path d="M227 1982H253" stroke="#ff6347" stroke-width="3" stroke-dasharray="2 5"/><circle cx="240" cy="1982" r="5" fill="#ff6347"/>
<path d="M496 1958H522" stroke="#2f4f4f" stroke-width="3" stroke-dasharray="2 5"/><circle cx="509" cy="1958" r="5" fill="#2f4f4f"/>
<path d="M496 1982H522" stroke="#20b2aa" stroke-width="3" stroke-dasharray="2 5"/><circle cx="509" cy="1982" r="5" fill="#20b2aa"/>
<path d="M735 1958H769" stroke="#e41a1c" stroke-width="3.5"/><circle cx="752" cy="1958" r="5" fill="#e41a1c"/>
<path d="M735 1982H769" stroke="#00008b" stroke-width="3.5"/><path d="M752 1974L758 1982L752 1990L746 1982Z" fill="#00008b"/>
<path d="M903 1958H937" stroke="#4682b4" stroke-width="3.5"/><path d="M916 1951h8v14h-8zM913 1954h14v8h-14z" fill="#4682b4"/>
<path d="M903 1982H937" stroke="#4169e1" stroke-width="3.5"/><path d="M920 1973L923 1979L930 1982L923 1985L920 1991L917 1985L910 1982L917 1979Z" fill="#4169e1"/>
<text class="d" x="268" y="1964" font-size="16" fill="#222" textLength="193" lengthAdjust="spacingAndGlyphs">Ledoit-Wolf (non-sparse)</text>
<text class="d" x="268" y="1988" font-size="16" fill="#222" textLength="139" lengthAdjust="spacingAndGlyphs">OAS (non-sparse)</text>
<text class="d" x="538" y="1964" font-size="16" fill="#222" textLength="155" lengthAdjust="spacingAndGlyphs">GLAD-Z <tspan font-weight="bold">(non-SPD)</tspan></text>
<text class="d" x="538" y="1988" font-size="16" fill="#222" textLength="181" lengthAdjust="spacingAndGlyphs">GLAD-Θ <tspan font-weight="bold">(non-sparse)</tspan></text>
<text class="d" x="781" y="1964" font-size="16" fill="#222" textLength="57" lengthAdjust="spacingAndGlyphs">GLasso</text>
<text class="db" x="781" y="1988" font-size="16" fill="#222" textLength="97" lengthAdjust="spacingAndGlyphs">UBG (ours)</text>
<text class="db" x="949" y="1964" font-size="16" fill="#222" textLength="95" lengthAdjust="spacingAndGlyphs">PNP (ours)</text>
<text class="db" x="949" y="1988" font-size="16" fill="#222" textLength="91" lengthAdjust="spacingAndGlyphs">E2E (ours)</text>
<g fill="#111">
<text class="d" x="312" y="2030" font-size="25" textLength="153" lengthAdjust="spacingAndGlyphs"><tspan font-style="italic">p</tspan> = 20, <tspan font-style="italic">n</tspan> = 20</text>
<text class="d" x="566" y="2030" font-size="25" textLength="153" lengthAdjust="spacingAndGlyphs"><tspan font-style="italic">p</tspan> = 50, <tspan font-style="italic">n</tspan> = 50</text>
<text class="d" x="805" y="2030" font-size="25" textLength="183" lengthAdjust="spacingAndGlyphs"><tspan font-style="italic">p</tspan> = 100, <tspan font-style="italic">n</tspan> = 100</text>
</g>
<!-- Plot A -->
<g>
<path d="M310 2061H467M310 2082H467M310 2107H467M310 2137H467M310 2176H467" stroke="#c4c4c4" stroke-width="2"/>
<path d="M388 2045V2208" stroke="#c4c4c4" stroke-width="1.5"/>
<polygon points="317,2119 460,2119 460,2163 317,2163" fill="#e0604c" opacity=".55"/>
<polygon points="317,2175 460,2178 460,2200 340,2200 317,2195" fill="#8fa5a5" opacity=".5"/>
<polygon points="320,2150 345,2160 460,2168 460,2190 345,2180 320,2170" fill="#7c8fd0" opacity=".4"/>
<polyline points="317,2136 460,2136" stroke="#ff6347" stroke-width="3" stroke-dasharray="2 5" fill="none"/>
<polyline points="317,2141 460,2141" stroke="#8b0000" stroke-width="3" stroke-dasharray="2 5" fill="none"/>
<polyline points="317,2147 460,2147" stroke="#e41a1c" stroke-width="3.5" fill="none"/>
<polyline points="317,2143 330,2150 350,2158 380,2155 420,2158 460,2157" stroke="#20b2aa" stroke-width="3" stroke-dasharray="2 5" fill="none"/>
<polyline points="317,2178 325,2183 360,2185 460,2186" stroke="#2f4f4f" stroke-width="3" stroke-dasharray="2 4" fill="none"/>
<polyline points="317,2115 324,2153 345,2170 400,2176 460,2177" stroke="#4682b4" stroke-width="3" fill="none"/>
<polyline points="317,2123 319,2160 325,2172 345,2177 400,2179 460,2178" stroke="#4169e1" stroke-width="3.5" fill="none"/>
<polyline points="317,2058 320,2082 322,2060 327,2103 333,2137 345,2153 375,2162 403,2170 460,2173" stroke="#00008b" stroke-width="3" fill="none"/>
<path d="M310 2045H467M310 2208H467" stroke="#222" stroke-width="2"/><path d="M310 2045V2208M467 2045V2208" stroke="#555" stroke-width="1.2"/>
</g>
<!-- Plot B -->
<g>
<path d="M564 2060H721M564 2087H721M564 2118H721M564 2156H721M564 2204H721" stroke="#c4c4c4" stroke-width="2"/>
<path d="M643 2045V2208" stroke="#c4c4c4" stroke-width="1.5"/>
<polygon points="571,2053 714,2053 714,2068 571,2068" fill="#e0604c" opacity=".45"/>
<polygon points="571,2069 714,2069 714,2090 571,2090" fill="#e88080" opacity=".4"/>
<polygon points="590,2140 610,2130 640,2120 714,2118 714,2148 640,2148 590,2152" fill="#9fdcd4" opacity=".6"/>
<polygon points="580,2145 714,2143 714,2163 640,2163 590,2160" fill="#7c8fd0" opacity=".45"/>
<polygon points="585,2168 630,2172 714,2167 714,2193 620,2193 585,2190" fill="#b0bcf0" opacity=".55"/>
<polygon points="571,2175 590,2182 714,2185 714,2202 590,2202 571,2195" fill="#8fa5a5" opacity=".5"/>
<polyline points="571,2061 714,2061" stroke="#8b0000" stroke-width="3" stroke-dasharray="2 5" fill="none"/>
<polyline points="571,2080 714,2080" stroke="#e41a1c" stroke-width="3.5" fill="none"/>
<polyline points="571,2148 585,2148 600,2145 625,2133 650,2132 680,2134 714,2135" stroke="#20b2aa" stroke-width="3" stroke-dasharray="2 5" fill="none"/>
<polyline points="571,2183 590,2190 714,2191" stroke="#2f4f4f" stroke-width="3" stroke-dasharray="2 4" fill="none"/>
<polyline points="571,2093 578,2137 592,2150 620,2153 714,2153" stroke="#00008b" stroke-width="3" fill="none"/>
<polyline points="571,2072 578,2130 590,2148 620,2152 714,2153" stroke="#4682b4" stroke-width="3" fill="none"/>
<polyline points="571,2072 578,2153 588,2177 610,2183 714,2183" stroke="#4169e1" stroke-width="3.5" fill="none"/>
<path d="M564 2045H721M564 2208H721" stroke="#222" stroke-width="2"/><path d="M564 2045V2208M721 2045V2208" stroke="#555" stroke-width="1.2"/>
</g>
<!-- Plot C -->
<g>
<path d="M819 2082H976M819 2102H976M819 2126H976M819 2152H976M819 2186H976" stroke="#c4c4c4" stroke-width="2"/>
<path d="M897 2045V2208" stroke="#c4c4c4" stroke-width="1.5"/>
<polygon points="825,2065 968,2065 968,2076 825,2076" fill="#e88070" opacity=".45"/>
<polygon points="830,2115 968,2110 968,2125 830,2130" fill="#9fdcd4" opacity=".5"/>
<polygon points="825,2172 845,2180 968,2180 968,2192 850,2192 825,2182" fill="#8fa5a5" opacity=".5"/>
<polygon points="840,2180 870,2186 968,2186 968,2200 870,2198 840,2190" fill="#b0bcf0" opacity=".55"/>
<polyline points="825,2068 968,2068" stroke="#ff6347" stroke-width="3.5" stroke-dasharray="2 4" fill="none"/>
<polyline points="825,2074 968,2074" stroke="#e41a1c" stroke-width="3.5" fill="none"/>
<polyline points="825,2125 840,2122 880,2124 920,2122 968,2118" stroke="#20b2aa" stroke-width="3" stroke-dasharray="2 5" fill="none"/>
<polyline points="825,2175 853,2183 968,2183" stroke="#2f4f4f" stroke-width="3" stroke-dasharray="2 4" fill="none"/>
<polyline points="825,2053 840,2054 853,2070 868,2087 879,2120 889,2137 897,2145 918,2153 968,2170" stroke="#4682b4" stroke-width="3.5" fill="none"/>
<polyline points="825,2063 831,2103 839,2127 853,2129 968,2129" stroke="#00008b" stroke-width="3.5" fill="none"/>
<polyline points="825,2070 832,2137 842,2170 861,2188 910,2192 968,2193" stroke="#4169e1" stroke-width="3.5" fill="none"/>
<path d="M819 2045H976M819 2208H976" stroke="#222" stroke-width="2"/><path d="M819 2045V2208M976 2045V2208" stroke="#555" stroke-width="1.2"/>
</g>
<text class="d" x="317" y="2232" font-size="18" text-anchor="middle" fill="#222">0</text><text class="d" x="388" y="2232" font-size="18" text-anchor="middle" fill="#222">50</text><text class="d" x="460" y="2232" font-size="18" text-anchor="middle" fill="#222">100</text>
<text class="d" x="571" y="2232" font-size="18" text-anchor="middle" fill="#222">0</text><text class="d" x="643" y="2232" font-size="18" text-anchor="middle" fill="#222">50</text><text class="d" x="714" y="2232" font-size="18" text-anchor="middle" fill="#222">100</text>
<text class="d" x="825" y="2232" font-size="18" text-anchor="middle" fill="#222">0</text><text class="d" x="897" y="2232" font-size="18" text-anchor="middle" fill="#222">50</text><text class="d" x="968" y="2232" font-size="18" text-anchor="middle" fill="#222">100</text>
<text class="d" x="388" y="2258" font-size="25" text-anchor="middle" fill="#222">Epochs</text><text class="d" x="643" y="2258" font-size="25" text-anchor="middle" fill="#222">Epochs</text><text class="d" x="897" y="2258" font-size="25" text-anchor="middle" fill="#222">Epochs</text>
<text class="d" x="231" y="2088" font-size="17" fill="#222">6 × 10<tspan font-size="12" dy="-7">−1</tspan></text>
<text class="d" x="231" y="2143" font-size="17" fill="#222">4 × 10<tspan font-size="12" dy="-7">−1</tspan></text>
<text class="d" x="231" y="2182" font-size="17" fill="#222">3 × 10<tspan font-size="12" dy="-7">−1</tspan></text>
<text class="d" x="486" y="2093" font-size="17" fill="#222">6 × 10<tspan font-size="12" dy="-7">−1</tspan></text>
<text class="d" x="486" y="2162" font-size="17" fill="#222">4 × 10<tspan font-size="12" dy="-7">−1</tspan></text>
<text class="d" x="486" y="2210" font-size="17" fill="#222">3 × 10<tspan font-size="12" dy="-7">−1</tspan></text>
<text class="d" x="778" y="2054" font-size="17" fill="#222">10<tspan font-size="12" dy="-7">0</tspan></text>
<text class="d" x="740" y="2132" font-size="17" fill="#222">6 × 10<tspan font-size="12" dy="-7">−1</tspan></text>
<text class="d" x="740" y="2192" font-size="17" fill="#222">4 × 10<tspan font-size="12" dy="-7">−1</tspan></text>
<text class="mb" transform="translate(178 2118) rotate(-90)" font-size="21" fill="#222" text-anchor="middle">‖ Θ̂ − Θ<tspan font-size="14" dy="4">true</tspan><tspan dy="-4"> ‖</tspan><tspan font-size="14" dy="-7">2</tspan><tspan font-size="14" dy="10" font-style="italic">F</tspan></text>
<path d="M188 2057V2180" stroke="#222" stroke-width="1.3"/>
<text class="mb" transform="translate(206 2126) rotate(-90)" font-size="21" fill="#222" text-anchor="middle">‖ Θ<tspan font-size="14" dy="4">true</tspan><tspan dy="-4"> ‖</tspan><tspan font-size="14" dy="-7">2</tspan><tspan font-size="14" dy="10" font-style="italic">F</tspan></text>

<text class="d" x="52" y="2303" font-size="26" fill="#222" textLength="355" lengthAdjust="spacingAndGlyphs">GLasso (modularity = 0.61)</text>
<text class="d" x="443" y="2303" font-size="26" fill="#222" textLength="335" lengthAdjust="spacingAndGlyphs">EGFM (modularity = 0.86)</text>
<text class="db" x="811" y="2303" font-size="26" fill="#111" textLength="354" lengthAdjust="spacingAndGlyphs">UBG (modularity = 0.78)</text>

<g>
<rect x="43" y="2314" width="369" height="343" fill="#fff" stroke="#aaa" stroke-width="1.6"/>
<rect x="419" y="2314" width="369" height="343" fill="#fff" stroke="#aaa" stroke-width="1.6"/>
<rect x="798" y="2313" width="369" height="343" fill="#fff" stroke="#aaa" stroke-width="1.6"/>
<path fill="none" stroke="#d0d0d0" stroke-width="1" d="M146 2373L130 2386M146 2373L141 2387M135 2377L150 2378M135 2377L141 2387M150 2378L130 2386M150 2378L141 2387M170 2358L146 2373M170 2358L150 2378M185 2344L170 2358M185 2344L150 2378M146 2373L271 2373M150 2378L271 2373M141 2387L229 2394M150 2378L229 2394M141 2387L209 2399M146 2373L209 2399M135 2377L229 2394M150 2378L265 2393M229 2394L265 2393M229 2394L271 2373M209 2399L229 2394M265 2393L271 2373M141 2387L348 2508M150 2378L346 2454M150 2378L334 2490M141 2387L365 2516M130 2386L348 2508M146 2373L347 2475M229 2394L346 2454M229 2394L368 2471M229 2394L365 2516M209 2399L348 2508M209 2399L334 2490M265 2393L346 2454M271 2373L347 2475M271 2373L365 2516M265 2393L348 2508M229 2394L379 2495M346 2454L347 2475M346 2454L368 2471M347 2475L368 2471M347 2475L334 2490M334 2490L348 2508M348 2508L365 2516M379 2495L365 2516M379 2495L348 2508M368 2471L379 2495M346 2454L365 2516M368 2471L334 2490M141 2387L186 2593M130 2386L193 2582M150 2378L203 2591M135 2377L186 2607M170 2358L203 2591M185 2344L193 2582M146 2373L186 2593M141 2387L203 2591M106 2488L142 2496M106 2488L96 2512M142 2496L96 2512M142 2496L126 2545M96 2512L126 2545M96 2512L75 2552M106 2488L126 2545M75 2552L126 2545M106 2488L186 2607M75 2552L186 2607M96 2512L186 2593M142 2496L159 2617M193 2582L186 2593M193 2582L203 2591M186 2593L203 2591M186 2593L186 2607M203 2591L186 2607M186 2607L159 2617M159 2617L144 2627M193 2582L348 2508M186 2593L379 2495M203 2591L365 2516M186 2607L287 2541M193 2582L287 2541M203 2591L287 2541M186 2593L287 2541M287 2541L348 2508M287 2541L379 2495M287 2541L310 2589M278 2523L287 2541M301 2571L310 2589M203 2591L348 2508"/>
<g fill="#c2a5dc"><circle cx="185.5" cy="2344.3" r="5"/><circle cx="170" cy="2358" r="5"/><circle cx="146.5" cy="2373.3" r="5"/><circle cx="134.7" cy="2377.3" r="5"/><circle cx="150.2" cy="2378.3" r="5"/><circle cx="129.5" cy="2385.7" r="5"/><circle cx="140.6" cy="2386.7" r="5"/></g>
<g fill="#82c882"><circle cx="271" cy="2372.7" r="5"/><circle cx="229" cy="2394" r="5"/><circle cx="265.2" cy="2393" r="5"/><circle cx="209" cy="2399" r="5"/></g>
<g fill="#6ba3d6"><circle cx="345.5" cy="2453.7" r="5"/><circle cx="347" cy="2475" r="5"/><circle cx="367.6" cy="2471.3" r="5"/><circle cx="333.7" cy="2489.7" r="5"/><circle cx="379.4" cy="2494.7" r="5"/><circle cx="348.5" cy="2508.3" r="5"/><circle cx="365.4" cy="2515.7" r="5"/></g>
<g fill="#e9a6dc"><circle cx="106" cy="2487.7" r="5"/><circle cx="142" cy="2496" r="5"/><circle cx="96.3" cy="2512.3" r="5"/><circle cx="75" cy="2552" r="5"/><circle cx="125.8" cy="2545" r="5"/></g>
<g fill="#6fd6e4"><circle cx="277.7" cy="2523.3" r="5"/><circle cx="286.5" cy="2541" r="5"/><circle cx="301.3" cy="2571.3" r="5"/><circle cx="310" cy="2589.3" r="5"/></g>
<g fill="#cfd27a"><circle cx="193" cy="2581.7" r="5"/><circle cx="185.5" cy="2592.7" r="5"/><circle cx="202.5" cy="2591.3" r="5"/><circle cx="185.5" cy="2606.7" r="5"/><circle cx="159" cy="2617.3" r="5"/><circle cx="144.3" cy="2627.3" r="5"/></g>
<g class="lb"><text x="190.7" y="2337">Iguana</text><text x="148" y="2352">Alligator</text><text x="149.4" y="2368">Tiger</text><text x="114" y="2377">Wolf</text><text x="163.4" y="2387">Lion</text><text x="111" y="2396">Dog</text><text x="145" y="2402">Cat</text><text x="272" y="2372">Mouse</text><text x="225.4" y="2387">Chimp</text><text x="297.6" y="2395">Squirrel</text><text x="207.7" y="2413">Gorilla</text><text x="345.5" y="2447">Camel</text><text x="329.3" y="2471">Giraffe</text><text x="378" y="2465">Deer</text><text x="308" y="2493">Rhino</text><text x="379.4" y="2489">Elephant</text><text x="332" y="2509">Horse</text><text x="384" y="2531">Cow</text><text x="96.3" y="2482">Robin</text><text x="151.6" y="2491">Eagle</text><text x="89" y="2505">Finch</text><text x="72.8" y="2546">Chicken</text><text x="127.3" y="2562">Ostrich</text><text x="277.7" y="2522">Bee</text><text x="286.5" y="2540">Butterfly</text><text x="301.3" y="2571">Ant</text><text x="309.4" y="2589">Cockroach</text><text x="193" y="2576">Seal</text><text x="155.3" y="2596">Whale</text><text x="231" y="2607">Dolphin</text><text x="213" y="2623">Penguin</text><text x="131.7" y="2613">Salmon</text><text x="135.4" y="2642">Trout</text></g>
<path fill="none" stroke="#d0d0d0" stroke-width="1" d="M543 2344L494 2385M543 2344L543 2400M494 2385L543 2400M494 2385L518 2417M543 2400L518 2417M543 2344L518 2417M618 2345L452 2499M618 2345L656 2382M618 2345L598 2428M656 2382L592 2441M656 2382L598 2428M598 2428L452 2499M592 2441L452 2499M686 2349L711 2372M711 2407L718 2448M711 2407L694 2470M711 2407L756 2468M718 2448L756 2468M694 2470L756 2468M491 2450L482 2475M491 2450L521 2476M491 2450L477 2506M482 2475L501 2478M501 2478L521 2476M482 2475L452 2499M482 2475L477 2506M501 2478L452 2499M501 2478L477 2506M452 2499L477 2506M452 2499L601 2542M477 2506L601 2542M501 2478L601 2542M601 2542L674 2626M690 2513L724 2560M690 2513L680 2595M659 2540L724 2560M724 2560L680 2595M484 2558L505 2613M547 2573L572 2617"/>
<g fill="#c2a5dc"><circle cx="543" cy="2344.3" r="5"/><circle cx="493.7" cy="2385" r="5"/><circle cx="543" cy="2400.3" r="5"/><circle cx="518" cy="2416.7" r="5"/></g>
<g fill="#e8808a"><circle cx="617.6" cy="2344.7" r="5"/><circle cx="656" cy="2382" r="5"/><circle cx="598.4" cy="2427.7" r="5"/><circle cx="592.5" cy="2440.7" r="5"/></g>
<g fill="#82c882"><circle cx="686" cy="2348.7" r="5"/><circle cx="711" cy="2372.3" r="5"/></g>
<g fill="#f9b26e"><circle cx="711" cy="2407" r="5"/><circle cx="718.5" cy="2448" r="5"/><circle cx="694" cy="2470.3" r="5"/><circle cx="756" cy="2468" r="5"/></g>
<g fill="#6ba3d6"><circle cx="651.5" cy="2477.3" r="5"/><circle cx="662.5" cy="2489.3" r="5"/></g>
<g fill="#b89a96"><circle cx="491.5" cy="2449.7" r="5"/><circle cx="482" cy="2475.3" r="5"/><circle cx="501" cy="2477.7" r="5"/><circle cx="521" cy="2476" r="5"/><circle cx="451.7" cy="2499.3" r="5"/><circle cx="476.7" cy="2506" r="5"/></g>
<g fill="#b4b4b4"><circle cx="601.3" cy="2541.7" r="5"/><circle cx="673.6" cy="2626" r="5"/></g>
<g fill="#6fd6e4"><circle cx="690.5" cy="2513.3" r="5"/><circle cx="659" cy="2540" r="5"/><circle cx="723.7" cy="2560.3" r="5"/><circle cx="680" cy="2594.7" r="5"/></g>
<circle cx="742" cy="2604.3" r="5" fill="#cfd27a"/>
<g fill="#e9a6dc"><circle cx="484" cy="2558.3" r="5"/><circle cx="547" cy="2573.3" r="5"/><circle cx="505.5" cy="2613.3" r="5"/><circle cx="572" cy="2617.3" r="5"/></g>
<g class="lb"><text x="521.7" y="2340">Tiger</text><text x="476.7" y="2379">Wolf</text><text x="543.8" y="2393">Cat</text><text x="499" y="2422">Dog</text><text x="617.6" y="2343">Mouse</text><text x="656" y="2380">Squirrel</text><text x="598.4" y="2426">Elephant</text><text x="592.5" y="2438">Lion</text><text x="687.6" y="2343">Chimp</text><text x="720" y="2389">Gorilla</text><text x="711" y="2404">Deer</text><text x="718.5" y="2446">Giraffe</text><text x="694" y="2469">Camel</text><text x="756" y="2465">Rhino</text><text x="648.5" y="2470">Cow</text><text x="635" y="2501">Horse</text><text x="471" y="2444">Ostrich</text><text x="460" y="2471">Robin</text><text x="509" y="2493">Finch</text><text x="548" y="2478">Eagle</text><text x="450" y="2493">Ant</text><text x="486" y="2523">Chicken</text><text x="572.6" y="2542">Alligator</text><text x="644" y="2626">Iguana</text><text x="691" y="2511">Dolphin</text><text x="658" y="2538">Cockroach</text><text x="723.7" y="2558">Whale</text><text x="679.5" y="2593">Seal</text><text x="743" y="2593">Penguin</text><text x="483.4" y="2551">Salmon</text><text x="547" y="2567">Butterfly</text><text x="507" y="2629">Trout</text><text x="571" y="2632">Bee</text></g>
<path fill="none" stroke="#d0d0d0" stroke-width="1" d="M923 2343L887 2353M923 2343L880 2387M923 2343L909 2387M887 2353L939 2370M887 2353L880 2387M887 2353L909 2387M939 2370L909 2387M939 2370L880 2387M880 2387L1092 2475M909 2387L1094 2499M985 2343L1019 2382M1019 2382L1092 2475M1019 2382L1098 2482M838 2437L885 2443M838 2437L861 2460M838 2437L831 2488M885 2443L861 2460M885 2443L864 2504M861 2460L831 2488M861 2460L864 2504M831 2488L864 2504M864 2504L1015 2623M885 2443L994 2617M971 2499L986 2536M986 2536L994 2617M986 2536L977 2626M882 2549L884 2573M884 2573L886 2602M886 2602L887 2624M1028 2579L1012 2592M1012 2592L1027 2601M1012 2592L994 2617M994 2617L1015 2623M994 2617L977 2626M1027 2601L1015 2623M1012 2592L1015 2623M977 2626L1012 2592M1092 2475L1135 2469M1092 2475L1098 2482M1106 2475L1098 2482M1098 2482L1098 2496M1098 2496L1094 2499M1106 2475L1135 2469"/>
<g fill="#e8808a"><circle cx="923.5" cy="2343.3" r="5"/><circle cx="887.4" cy="2353.3" r="5"/><circle cx="939" cy="2370" r="5"/><circle cx="880" cy="2386.7" r="5"/><circle cx="909.5" cy="2386.7" r="5"/></g>
<g fill="#f9b26e"><circle cx="985.4" cy="2343.3" r="5"/><circle cx="1018.6" cy="2382" r="5"/></g>
<g fill="#b89a96"><circle cx="838" cy="2436.7" r="5"/><circle cx="885" cy="2443.3" r="5"/><circle cx="860.8" cy="2460" r="5"/><circle cx="830.6" cy="2487.7" r="5"/><circle cx="863.8" cy="2504.3" r="5"/></g>
<g fill="#6ba3d6"><circle cx="1092.3" cy="2475" r="5"/><circle cx="1105.6" cy="2475" r="5"/><circle cx="1135" cy="2469.3" r="5"/><circle cx="1098" cy="2481.7" r="5"/><circle cx="1098" cy="2495.7" r="5"/><circle cx="1093.8" cy="2499.3" r="5"/></g>
<g fill="#e9a6dc"><circle cx="971.4" cy="2498.7" r="5"/><circle cx="986" cy="2535.7" r="5"/></g>
<g fill="#cfd27a"><circle cx="882.2" cy="2548.7" r="5"/><circle cx="883.7" cy="2573" r="5"/><circle cx="886" cy="2601.7" r="5"/><circle cx="887.4" cy="2624.3" r="5"/></g>
<g fill="#6fd6e4"><circle cx="1028" cy="2579.3" r="5"/><circle cx="1012" cy="2591.7" r="5"/><circle cx="1027.4" cy="2600.7" r="5"/><circle cx="993.5" cy="2617.3" r="5"/><circle cx="1015" cy="2623" r="5"/><circle cx="977.3" cy="2625.7" r="5"/></g>
<g class="lb"><text x="923.5" y="2342">Tiger</text><text x="887.4" y="2351">Wolf</text><text x="939" y="2367">Lion</text><text x="880" y="2385">Dog</text><text x="909.5" y="2385">Cat</text><text x="1015" y="2344">Gorilla</text><text x="1044.4" y="2377">Chimp</text><text x="838" y="2436">Finch</text><text x="885" y="2442">Eagle</text><text x="860.8" y="2458">Robin</text><text x="830.6" y="2487">Chicken</text><text x="863.8" y="2503">Ostrich</text><text x="1071" y="2462">Giraffe</text><text x="1135" y="2459">Elephant</text><text x="1062" y="2475">Horse</text><text x="1104" y="2474">Rhino</text><text x="1143" y="2484">Camel</text><text x="1073" y="2491">Deer</text><text x="1112" y="2492">Cow</text><text x="1128" y="2506">Mouse</text><text x="1075" y="2514">Squirrel</text><text x="974.4" y="2488">Alligator</text><text x="1012" y="2528">Iguana</text><text x="850.5" y="2548">Butterfly</text><text x="852.7" y="2572">Bee</text><text x="854" y="2601">Ant</text><text x="855.7" y="2623">Cockroach</text><text x="1049" y="2573">Dolphin</text><text x="998" y="2586">Whale</text><text x="1047" y="2603">Seal</text><text x="965" y="2612">Salmon</text><text x="1037" y="2638">Penguin</text><text x="969" y="2641">Trout</text></g>
</g>
</g>

<!-- More details -->
<rect x="1188" y="1780" width="820" height="537" rx="5" fill="#fff" stroke="#6a9ec0" stroke-width="2.5"/>
<path d="M1188 1785q0-5 5-5h810q5 0 5 5v72q0 5-5 5h-810q-5 0-5-5Z" fill="#022f47"/>
<text class="db" x="1467" y="1835" font-size="30" fill="#fdf3d8" textLength="298" lengthAdjust="spacingAndGlyphs">Some more details</text>
<text class="d" x="1222" y="1905" font-size="28" fill="#111" textLength="450" lengthAdjust="spacingAndGlyphs">- Unexpected eigenvalue dynamics</text>
<g>
<path d="M1292 1963H1695M1292 1998H1695M1292 2033H1695M1402 1931V2066M1494 1931V2066M1586 1931V2066M1310 1931V2066M1677 1931V2066" stroke="#cfcfcf" stroke-width="1.5"/>
<polyline points="1310,2018 1402,2020.3 1432.4,2021 1463,2022.8 1493.6,2025 1524,2029.3 1555,2036 1585.4,2043.8 1616,2040.3 1646.6,2052.4 1677.2,2060.3" fill="none" stroke="#1f77b4" stroke-width="2.8"/>
<polyline points="1310,2013.5 1493.6,2013.5 1524,2012.8 1555,2009.7 1585.4,2006.6 1616,2005.5 1646.6,1999.3 1677.2,1980.4" fill="none" stroke="#ff7f0e" stroke-width="2.8"/>
<polyline points="1310,2011.7 1432.4,2009 1463,2007 1493.6,2004.5 1524,2000 1555,1991 1585.4,1980 1616,1983 1646.6,1965.6 1677.2,1937.7" fill="none" stroke="#2ca02c" stroke-width="2.8"/>
<rect x="1304" y="1935" width="129" height="60" rx="3" fill="#fff" fill-opacity=".85" stroke="#e0e0e0"/>
<path d="M1309 1946H1336" stroke="#1f77b4" stroke-width="2.5"/><path d="M1309 1964H1336" stroke="#ff7f0e" stroke-width="2.5"/><path d="M1309 1983H1336" stroke="#2ca02c" stroke-width="2.5"/>
<text class="d" x="1346" y="1951" font-size="14" fill="#222"><tspan font-style="italic">λ</tspan><tspan font-size="10" dy="3">min</tspan><tspan dy="-3">(Θ)</tspan></text>
<text class="d" x="1346" y="1969" font-size="14" fill="#222" textLength="84" lengthAdjust="spacingAndGlyphs">max(diag(Θ))</text>
<text class="d" x="1346" y="1988" font-size="14" fill="#222">cond(Θ)</text>
<rect x="1292" y="1931" width="403" height="135" fill="none" stroke="#555" stroke-width="1.6"/>
<text class="d" x="1310" y="2086" font-size="17" fill="#222" text-anchor="middle">0</text><text class="d" x="1402" y="2086" font-size="17" fill="#222" text-anchor="middle">3</text><text class="d" x="1494" y="2086" font-size="17" fill="#222" text-anchor="middle">6</text><text class="d" x="1586" y="2086" font-size="17" fill="#222" text-anchor="middle">9</text><text class="d" x="1677" y="2086" font-size="17" fill="#222" text-anchor="middle">12</text>
<text class="d" x="1494" y="2105" font-size="16" fill="#222" text-anchor="middle" textLength="165" lengthAdjust="spacingAndGlyphs">Column update index</text>
<text class="d" x="1284" y="1968" font-size="16" fill="#222" text-anchor="end">10<tspan font-size="11" dy="-7">11</tspan></text>
<text class="d" x="1284" y="2003" font-size="16" fill="#222" text-anchor="end">10<tspan font-size="11" dy="-7">4</tspan></text>
<text class="d" x="1284" y="2038" font-size="16" fill="#222" text-anchor="end">10<tspan font-size="11" dy="-7">−3</tspan></text>
</g>
<use href="#smile" x="1776" y="1937"/>
<text class="d" x="1817" y="1935" font-size="24" fill="#111" textLength="153" lengthAdjust="spacingAndGlyphs">Normalization</text>
<text class="d" x="1817" y="1962" font-size="24" fill="#111" textLength="114" lengthAdjust="spacingAndGlyphs">fixes this !</text>
<text class="a" transform="translate(1813 2037) rotate(-18)" font-size="17" fill="#111" textLength="110" lengthAdjust="spacingAndGlyphs">Investigations:</text>
<text class="a" transform="translate(1820 2058) rotate(-18)" font-size="17" fill="#111">why ?</text>
<path d="M1891.5 2023L1927 2055L1880 2070.6Z" fill="#ffc107" stroke="#ffc107" stroke-width="2" stroke-linejoin="round"/><path d="M1896 2038L1900 2055L1903 2054L1900 2037Z" fill="#111"/><circle cx="1904" cy="2060" r="2.2" fill="#111"/>
<text class="d" x="1218" y="2186" font-size="28" fill="#111" textLength="251" lengthAdjust="spacingAndGlyphs">- Matrix inversion is</text>
<text class="d" x="1481" y="2186" font-size="30" fill="#111">𝒪</text><text class="m" x="1506" y="2186" font-size="32" fill="#111">(<tspan font-style="italic">p</tspan></text><text class="m" x="1533" y="2172" font-size="20" fill="#111">3</text><text class="m" x="1544" y="2186" font-size="32" fill="#111">):</text>
<text class="d" x="1238" y="2223" font-size="28" fill="#111" textLength="433" lengthAdjust="spacingAndGlyphs">How can we improve per-iteration</text>
<text class="d" x="1238" y="2255" font-size="28" fill="#111" textLength="162" lengthAdjust="spacingAndGlyphs">complexity ?</text>
<use href="#smile" x="1721" y="2192"/>
<text class="d" x="1762" y="2187" font-size="24" fill="#111" textLength="214" lengthAdjust="spacingAndGlyphs">Using Banachiewicz</text>
<text class="d" x="1762" y="2214" font-size="24" fill="#111" textLength="223" lengthAdjust="spacingAndGlyphs">inversion trick yields</text>
<text class="d" x="1824" y="2252" font-size="34" fill="#111">𝒪</text><text class="m" x="1853" y="2252" font-size="38" fill="#111">(<tspan font-style="italic">p</tspan></text><text class="m" x="1882" y="2234" font-size="23" fill="#111">2</text><text class="m" x="1893" y="2252" font-size="38" fill="#111">)</text>

<!-- Key take-aways -->
<rect x="1189" y="2345" width="819" height="359" rx="5" fill="#fff" stroke="#6a9ec0" stroke-width="2.5"/>
<path d="M1189 2703H2008" stroke="#6a9ec0" stroke-width="3.5"/>
<path d="M1189 2350q0-5 5-5h809q5 0 5 5v71q0 5-5 5h-809q-5 0-5-5Z" fill="#022f47"/>
<text class="ab" x="1384" y="2407" font-size="54" fill="#fdf3d8" textLength="406" lengthAdjust="spacingAndGlyphs">Key take-aways</text>
<g fill="#111">
<circle cx="1255" cy="2479" r="3.4"/><circle cx="1255" cy="2522" r="3.4"/><circle cx="1255" cy="2566" r="3.4"/><circle cx="1255" cy="2611" r="3.4"/>
<text class="a" x="1272" y="2490" font-size="36" fill="#111" textLength="435" lengthAdjust="spacingAndGlyphs">Learning <tspan font-weight="bold">SPD + XXX</tspan> is <tspan fill="#f00">hard</tspan></text>
<text class="a" x="1272" y="2533" font-size="36" fill="#111" textLength="707" lengthAdjust="spacingAndGlyphs">SpodNet is the first architecture to achieve this</text>
<text class="a" x="1272" y="2577" font-size="36" fill="#111" textLength="460" lengthAdjust="spacingAndGlyphs">Open question on expressivity</text>
<text class="a" x="1272" y="2622" font-size="36" fill="#111" textLength="407" lengthAdjust="spacingAndGlyphs">PyTorch implementation at</text>
<text class="a" x="1355" y="2666" font-size="36" fill="#f00" font-style="italic" textLength="545" lengthAdjust="spacingAndGlyphs">github.com/Perceptronium/SpodNet</text>
</g>

<!-- refs -->
<g transform="translate(20 0) scale(.9949 1) translate(-20 0)">
<text class="a" x="40" y="2753" font-size="17.5" fill="#111" textLength="1273" lengthAdjust="spacingAndGlyphs">[1] O. Banerjee, L. El-Ghaoui &amp; A. d'Aspremont. <tspan font-style="italic">Model selection through sparse maximum likelihood estimation for multivariate Gaussian or binary data.</tspan> JMLR, 2008.</text>
<text class="a" x="40" y="2773" font-size="17.5" fill="#111" textLength="958" lengthAdjust="spacingAndGlyphs">[2] J. Friedman, T. Hastie &amp; R. Tibshirani. <tspan font-style="italic">Sparse inverse covariance estimation with the Graphical Lasso.</tspan> Biostatistics, 2008.</text>
<text class="a" x="40" y="2793" font-size="17.5" fill="#111" textLength="718" lengthAdjust="spacingAndGlyphs">[3] R. Mazumder &amp; T. Hastie. The Graphical Lasso: <tspan font-style="italic">New insights and alternatives.</tspan> EJS, 2012.</text>
<text class="a" x="40" y="2813" font-size="17.5" fill="#111" textLength="967" lengthAdjust="spacingAndGlyphs">[4] H. Shrivastava, X. Chen, B. Chen, G. Lan, S. Aluru, H. Liu &amp; L. Song. <tspan font-style="italic">GLAD: Learning sparse graph recovery.</tspan> ICLR, 2019.</text>
</g>
</svg>
</body></html>
